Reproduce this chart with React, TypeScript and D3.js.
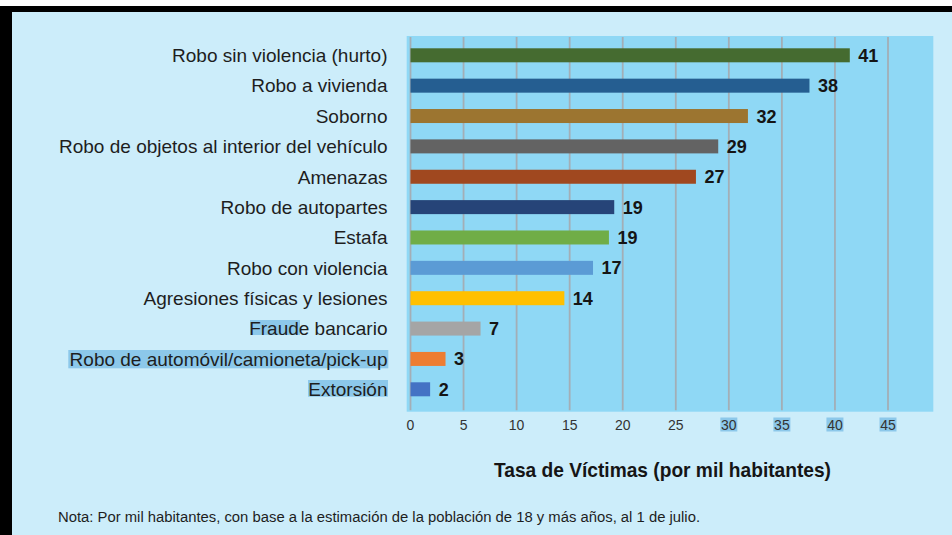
import React from "react";
import * as d3 from "d3";

const categories = [
  "Robo sin violencia (hurto)",
  "Robo a vivienda",
  "Soborno",
  "Robo de objetos al interior del vehículo",
  "Amenazas",
  "Robo de autopartes",
  "Estafa",
  "Robo con violencia",
  "Agresiones físicas y lesiones",
  "Fraude bancario",
  "Robo de automóvil/camioneta/pick-up",
  "Extorsión",
];
const values = [41.4, 37.6, 31.8, 29.0, 26.9, 19.2, 18.7, 17.2, 14.5, 6.6, 3.3, 1.85];
const valueLabels = ["41", "38", "32", "29", "27", "19", "19", "17", "14", "7", "3", "2"];
const barColors = [
  "#456b30", "#255e91", "#9c7530", "#636363", "#a0481f", "#264478",
  "#70ad47", "#5b9bd5", "#ffc000", "#a5a5a5", "#ed7d31", "#4472c4",
];
const ticks = [0, 5, 10, 15, 20, 25, 30, 35, 40, 45];
const highlightedTicks = [30, 35, 40, 45];
const axisTitle = "Tasa de Víctimas (por mil habitantes)";
const note = "Nota: Por mil habitantes, con base a la estimación de la población de 18 y más años, al 1 de julio.";

const W = 952;
const H = 535;
const FONT = "'Liberation Sans', Arial, sans-serif";

export default function App() {
  const plot = { x0: 406.7, x1: 933.3, y0: 36, y1: 411.7 };
  const x = d3.scaleLinear().domain([0, 45]).range([410.5, 888]);
  const y = d3.scalePoint<string>().domain(categories).range([55.3, 389.3]);
  const barH = 14;
  const hl = "#8cc8ea";

  return (
    <svg width={W} height={H} style={{ position: "absolute", left: 0, top: 0 }} fontFamily={FONT}>
      <rect x={0} y={0} width={W} height={H} fill="#ffffff" />
      <rect x={0} y={6} width={W} height={H - 6} fill="#000000" />
      <rect x={12} y={12} width={W - 12} height={H - 12} fill="#ccedfa" />
      <rect x={plot.x0} y={plot.y0} width={plot.x1 - plot.x0} height={plot.y1 - plot.y0} fill="#8fd8f5" />

      {ticks.map((t) => (
        <line key={"g" + t} x1={x(t)} x2={x(t)} y1={plot.y0 + 1} y2={plot.y1 - 1.5} stroke="#a3aeb6" strokeWidth={1.8} />
      ))}

      {/* selection highlights */}
      <rect x={250} y={320} width={50} height={15} fill={hl} />
      <rect x={68.3} y={350} width={320} height={18.3} fill={hl} />
      <rect x={308} y={380} width={80} height={16.7} fill={hl} />
      {highlightedTicks.map((t) => (
        <rect key={"h" + t} x={x(t) - 8.5} y={417.5} width={17} height={14} fill={hl} />
      ))}

      {categories.map((c, i) => (
        <g key={c}>
          <rect
            x={x(0)}
            y={(y(c) as number) - barH / 2}
            width={x(values[i]) - x(0)}
            height={barH}
            fill={barColors[i]}
          />
          <text
            x={387.5}
            y={(y(c) as number) + 6.8}
            textAnchor="end"
            fontSize={19}
            fill="#1e1e1e"
          >
            {c}
          </text>
          <text
            x={x(values[i]) + 8.5}
            y={(y(c) as number) + 6.5}
            fontSize={18}
            fontWeight="bold"
            fill="#151515"
          >
            {valueLabels[i]}
          </text>
        </g>
      ))}

      {ticks.map((t) => (
        <text key={"t" + t} x={x(t)} y={429.5} textAnchor="middle" fontSize={14} fill="#333333">
          {t}
        </text>
      ))}

      <text
        x={494}
        y={476.5}
        fontSize={21}
        fontWeight="bold"
        fill="#151515"
        textLength={337}
        lengthAdjust="spacingAndGlyphs"
      >
        {axisTitle}
      </text>

      <text
        x={58}
        y={522}
        fontSize={14}
        fill="#1e1e1e"
        textLength={642}
        lengthAdjust="spacingAndGlyphs"
      >
        {note}
      </text>
    </svg>
  );
}
